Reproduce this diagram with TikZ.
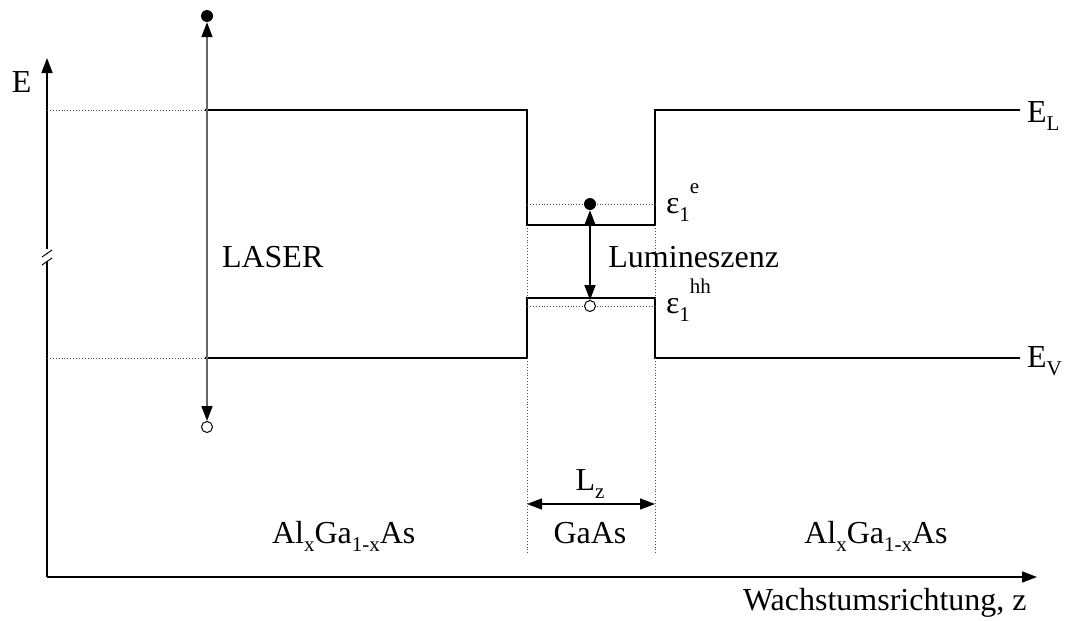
\documentclass[tikz,border=0pt]{standalone}
\usepackage{fontspec}
\setmainfont{Liberation Serif}
\usetikzlibrary{arrows.meta}
\newcommand{\lo}[1]{\raisebox{-0.25em}{\fontsize{21}{21}\selectfont #1}}
\newcommand{\hi}[1]{\raisebox{0.62em}{\fontsize{21}{21}\selectfont #1}}
\begin{document}
\begin{tikzpicture}[x=1pt,y=-1pt,
  font=\fontsize{32}{38}\selectfont,
  band/.style={line width=2.5pt},
  guide/.style={dotted, line width=0.9pt, black!70},
  axisarrow/.style={line width=1.5pt, -{Triangle[length=15pt,width=11pt]}},
  dblarrow/.style={line width=1.5pt, {Triangle[length=15pt,width=11pt]}-{Triangle[length=15pt,width=11pt]}},
  filleddot/.style={circle, fill=black, minimum size=12pt, inner sep=0pt},
  opendot/.style={circle, draw=black, fill=white, line width=1pt, minimum size=11pt, inner sep=0pt},
  txt/.style={inner sep=0pt, outer sep=0pt}]
\useasboundingbox (0,0) rectangle (1066,621);

% axes
\coordinate (o) at (47,577);
\coordinate (ybrk1) at (47,262);
\coordinate (ybrk2) at (47,249);
\coordinate (ytop) at (47,58);
\coordinate (xend) at (1037,577);
\draw[line width=1.5pt] (o) -- (ybrk1);
\draw[axisarrow] (ybrk2) -- (ytop);
\draw[line width=1pt] (42,257) -- (52,250);
\draw[line width=1pt] (42,265) -- (52,258);
\draw[axisarrow] (o) -- (xend);

% band corners
\coordinate (cl0) at (47,110);
\coordinate (cl1) at (205,110);
\coordinate (cl2) at (527,110);
\coordinate (cl3) at (527,225);
\coordinate (cl4) at (655,225);
\coordinate (cl5) at (655,110);
\coordinate (cl6) at (1020,110);
\coordinate (vl0) at (47,358);
\coordinate (vl1) at (205,358);
\coordinate (vl2) at (527,358);
\coordinate (vl3) at (527,298);
\coordinate (vl4) at (655,298);
\coordinate (vl5) at (655,358);
\coordinate (vl6) at (1020,358);

\draw[guide] (cl0) -- (cl1);
\draw[guide] (vl0) -- (vl1);
\draw[band] (cl1) -- (cl2) -- (cl3) -- (cl4) -- (cl5) -- (cl6);
\draw[band] (vl1) -- (vl2) -- (vl3) -- (vl4) -- (vl5) -- (vl6);

% dotted well boundaries
\coordinate (wl) at (527,555);
\coordinate (wr) at (655,555);
\draw[guide] (cl3) -- (vl3);
\draw[guide] (cl4) -- (vl4);
\draw[guide] (vl2) -- (wl);
\draw[guide] (vl5) -- (wr);

% quantized levels
\coordinate (e1l) at (527,204);
\coordinate (e1r) at (655,204);
\coordinate (h1l) at (527,306);
\coordinate (h1r) at (655,306);
\draw[guide] (e1l) -- (e1r);
\draw[guide] (h1l) -- (h1r);
\node[filleddot] (el) at (590,204) {};
\node[opendot] (ho) at (590,306) {};
\draw[dblarrow] (el) -- (ho);

% laser
\node[filleddot] (lel) at (207,16) {};
\node[opendot] (lho) at (207,427) {};
\draw[line width=1.5pt, black!60, {Triangle[length=15pt,width=11pt,fill=black,color=black]}-{Triangle[length=15pt,width=11pt,fill=black,color=black]}] (lel) -- (lho);

% Lz
\coordinate (lza) at (527,504);
\coordinate (lzb) at (655,504);
\draw[dblarrow] (lza) -- (lzb);

% labels
\node[txt, anchor=base west] (E) at (12,92) {E};
\node[txt, anchor=base west] (EL) at (1027,122) {E\lo{L}};
\node[txt, anchor=base west] (EV) at (1027,367) {E\lo{V}};
\node[txt, anchor=base west] (eps1) at (666,213) {ε\lo{1}\hi{e}};
\node[txt, anchor=base west] (eps2) at (666,313) {ε\lo{1}\hi{hh}};
\node[txt, anchor=base east] (lum) at (779,267) {Lumineszenz};
\node[txt, anchor=base west] (laser) at (222,267) {LASER};
\node[txt, anchor=base] (Lz) at (590,490) {L\lo{z}};
\node[txt, anchor=base] (gaas) at (590,543) {GaAs};
\node[txt, anchor=base west] (al1) at (272,543) {Al\lo{x}Ga\lo{1-x}As};
\node[txt, anchor=base] (al2) at (876,543) {Al\lo{x}Ga\lo{1-x}As};
\node[txt, anchor=base west] (wach) at (743,610) {Wachstumsrichtung, z};
\end{tikzpicture}
\end{document}
